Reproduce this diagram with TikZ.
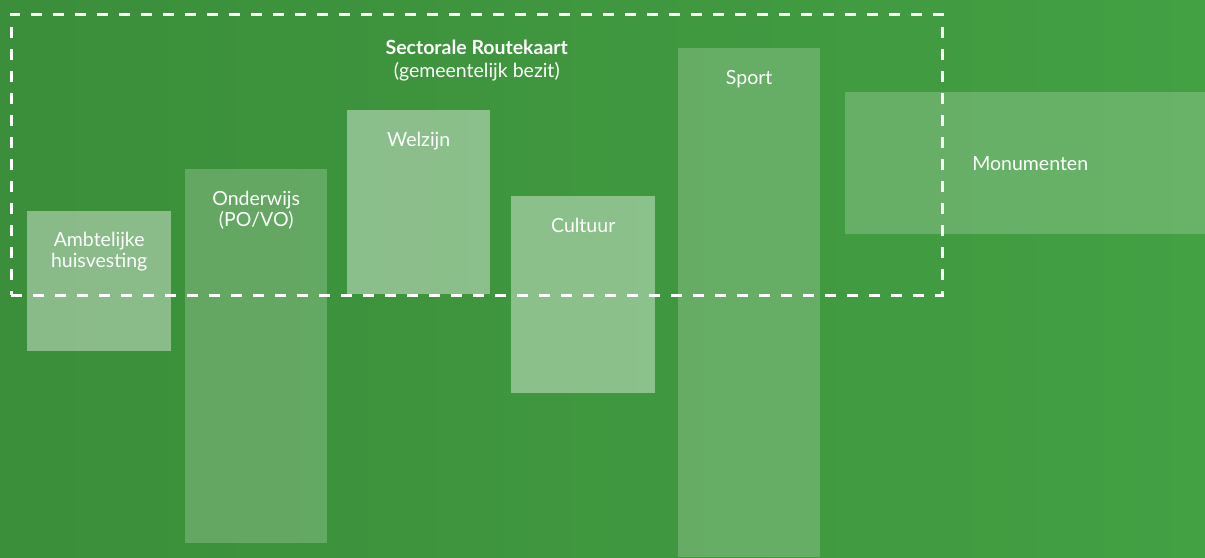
\documentclass[tikz,border=0pt]{standalone}
\usepackage{fontspec}
\setmainfont{Lato}
\usetikzlibrary{positioning}
\definecolor{bgleft}{HTML}{3B8E3A}
\definecolor{bgright}{HTML}{43A043}

\begin{document}
\begin{tikzpicture}[x=1pt, y=-1pt,
  light/.style = {fill=white, fill opacity=0.4, anchor=north west, inner sep=0pt},
  dim/.style = {fill=white, fill opacity=0.2, anchor=north west, inner sep=0pt},
  frame/.style = {draw=white, line width=2.5pt, dash pattern=on 11pt off 11pt, anchor=north west, inner sep=0pt},
  lbl/.style = {text=white, align=center, font=\fontsize{19.5}{21}\selectfont, inner sep=0pt, anchor=base}]
\useasboundingbox (0,0) rectangle (1205,557);
\shade[left color=bgleft, right color=bgright] (0,0) rectangle (1205,557);

% sector blocks
\node[light, minimum width=144pt, minimum height=140pt] (amb) at (27,211) {};
\node[dim, minimum width=142pt, minimum height=374pt] (ond) at (185,169) {};
\node[light, minimum width=143pt, minimum height=184pt] (wel) at (347,110) {};
\node[light, minimum width=144pt, minimum height=197pt] (cul) at (511,196) {};
\node[dim, minimum width=142pt, minimum height=509pt] (spo) at (678,48) {};
\node[dim, minimum width=360pt, minimum height=142pt] (mon) at (845,92) {};

% base = last line, so two-line labels sit one line lower
\node[lbl] (ambT) at ([yshift=-56pt]amb.north) {Ambtelijke\\huisvesting};
\node[lbl] (ondT) at ([yshift=-57pt]ond.north) {Onderwijs\\(PO/VO)};
\node[lbl] (welT) at ([yshift=-36pt]wel.north) {Welzijn};
\node[lbl] (culT) at ([yshift=-36pt]cul.north) {Cultuur};
\node[lbl] (spoT) at ([yshift=-36pt]spo.north) {Sport};
\node[lbl, anchor=center] (monT) at ([xshift=5pt]mon.center) {Monumenten};

% routekaart frame
\node[frame, minimum width=931pt, minimum height=281pt] (sector) at (10,13) {};
\node[lbl, font=\fontsize{19.5}{23}\selectfont] (title) at ([yshift=-64pt]sector.north)
  {\textbf{Sectorale Routekaart}\\(gemeentelijk bezit)};
\end{tikzpicture}
\end{document}
